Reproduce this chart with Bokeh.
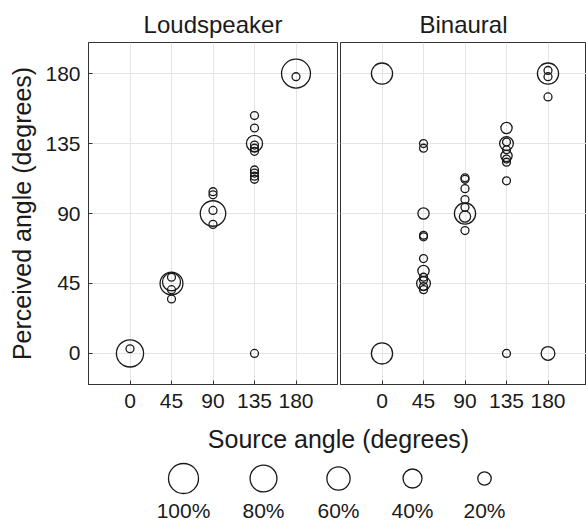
import numpy as np
from bokeh.plotting import figure
from bokeh.layouts import column, row
from bokeh.models import ColumnDataSource, FixedTicker, Range1d
from bokeh.core.properties import value
from bokeh.embed import file_html
from bokeh.resources import INLINE

# ---------------- data ----------------
ticks = [0, 45, 90, 135, 180]

# Loudspeaker: source angle, perceived angle, percent of responses
ls_source = [0, 0,
             45, 45, 45, 45, 45,
             90, 90, 90, 90, 90,
             135, 135, 135, 135, 135, 135, 135, 135, 135, 135, 135,
             180, 180]
ls_perceived = [0, 3,
                45, 46, 49, 41, 35,
                90, 92, 83, 104, 102,
                153, 145, 135, 134, 132, 130, 118, 116, 114, 112, 0,
                180, 178]
ls_percent = [82, 7,
              58, 36, 7, 7, 7,
              72, 7, 7, 7, 7,
              7, 7, 29, 7, 7, 7, 7, 7, 7, 7, 7,
              93, 7]

# Binaural
bi_source = [0, 0,
             45, 45, 45, 45, 45, 45, 45, 45, 45, 45, 45, 45,
             90, 90, 90, 90, 90, 90, 90, 90,
             135, 135, 135, 135, 135, 135, 135, 135, 135,
             180, 180, 180, 180, 180]
bi_perceived = [180, 0,
                135, 132, 90, 75, 76, 61, 53, 49, 47, 45, 43, 41,
                113, 112, 106, 99, 94, 90, 88, 79,
                145, 136, 135, 131, 127, 125, 123, 111, 0,
                180, 182, 178, 165, 0]
bi_percent = [50, 50,
              7, 7, 14, 7, 7, 7, 14, 7, 7, 21, 7, 7,
              7, 7, 7, 7, 7, 50, 14, 7,
              14, 7, 21, 7, 14, 7, 7, 7, 7,
              50, 7, 7, 7, 21]

legend_percent = [100, 80, 60, 40, 20]
legend_labels = ["100%", "80%", "60%", "40%", "20%"]

FONT = "Liberation Sans"
MAX_D = 30  # diameter in px for 100%
INK = "#1a1a1a"


def diam(p):
    return [MAX_D * np.sqrt(v / 100.0) for v in p]


def style(p, show_y):
    p.outline_line_color = "#333333"
    p.outline_line_width = 1
    p.xaxis.ticker = FixedTicker(ticks=ticks)
    p.xgrid.ticker = FixedTicker(ticks=ticks)
    p.ygrid.ticker = FixedTicker(ticks=ticks)
    p.grid.grid_line_color = "#e4e4e4"
    p.grid.grid_line_width = 1
    p.xaxis.major_tick_in = 4
    p.xaxis.major_tick_out = 0
    p.xaxis.minor_tick_line_color = None
    p.xaxis.axis_line_color = "#333333"
    p.xaxis.major_tick_line_color = "#333333"
    p.xaxis.major_label_text_font = FONT
    p.xaxis.major_label_text_font_size = "21px"
    p.xaxis.major_label_text_color = INK
    p.xaxis.major_label_standoff = 9
    if show_y:
        p.yaxis.ticker = FixedTicker(ticks=ticks)
        p.yaxis.major_tick_in = 4
        p.yaxis.major_tick_out = 0
        p.yaxis.minor_tick_line_color = None
        p.yaxis.axis_line_color = "#333333"
        p.yaxis.major_tick_line_color = "#333333"
        p.yaxis.major_label_text_font = FONT
        p.yaxis.major_label_text_font_size = "21px"
        p.yaxis.major_label_text_color = INK
        p.yaxis.major_label_standoff = 8
        p.yaxis.axis_label = "Perceived angle (degrees)"
        p.yaxis.axis_label_text_font = FONT
        p.yaxis.axis_label_text_font_size = "25px"
        p.yaxis.axis_label_text_font_style = "normal"
        p.yaxis.axis_label_text_color = INK
        p.yaxis.axis_label_standoff = 6
    else:
        p.yaxis.visible = False
    p.title.align = "center"
    p.title.text_font = FONT
    p.title.text_font_size = "24px"
    p.title.text_font_style = "normal"
    p.title.text_color = INK
    p.title.standoff = 10


TOP_H = 425

left = figure(width=340, height=TOP_H, x_range=Range1d(-45, 225), y_range=Range1d(-20, 200),
              output_backend="svg", toolbar_location=None, title="Loudspeaker",
              min_border_left=88, min_border_right=3, min_border_top=42, min_border_bottom=41)
style(left, True)
src_l = ColumnDataSource(dict(x=ls_source, y=ls_perceived, s=diam(ls_percent)))
left.scatter("x", "y", size="s", source=src_l, marker="circle", fill_color=None,
             line_color=INK, line_width=1.3)

x_end = -45 + 246 / 249 * 270
right = figure(width=246, height=TOP_H, x_range=Range1d(-45, x_end), y_range=Range1d(-20, 200),
               output_backend="svg", toolbar_location=None, title="Binaural",
               min_border_left=0, min_border_right=0, min_border_top=42, min_border_bottom=41)
style(right, False)
src_r = ColumnDataSource(dict(x=bi_source, y=bi_perceived, s=diam(bi_percent)))
right.scatter("x", "y", size="s", source=src_r, marker="circle", fill_color=None,
              line_color=INK, line_width=1.3)

# bottom: shared x label + size legend
bottom = figure(width=586, height=100, x_range=Range1d(0, 586), y_range=Range1d(525, 425),
                output_backend="svg", toolbar_location=None,
                min_border_left=0, min_border_right=0, min_border_top=0, min_border_bottom=0)
bottom.axis.visible = False
bottom.grid.visible = False
bottom.outline_line_color = None
bottom.text(x=[338], y=[438], text=["Source angle (degrees)"], text_font=value(FONT),
            text_font_size="25px", text_align="center", text_baseline="middle",
            text_color=INK)
leg_x = [183, 263, 338, 412, 484]
bottom.scatter(x=leg_x, y=[478] * 5, size=diam(legend_percent), marker="circle",
               fill_color=None, line_color=INK, line_width=1.3)
bottom.text(x=leg_x, y=[510] * 5, text=legend_labels, text_font=value(FONT),
            text_font_size="21px", text_align="center", text_baseline="middle",
            text_color=INK)

layout = column(row(left, right, spacing=0), bottom, spacing=0)
open("out.html", "w").write(file_html(layout, INLINE))
